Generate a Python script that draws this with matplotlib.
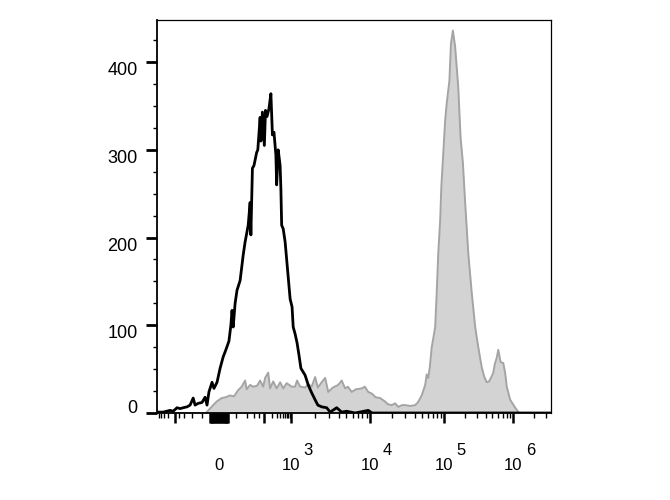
# %%
import numpy as np
import matplotlib
matplotlib.use("Agg")
import matplotlib.pyplot as plt

plt.rcParams['font.family'] = ['Liberation Sans', 'DejaVu Sans']

# %%
# histogram values, x in display channels (0-1024), y in events
black_ch = [0, 16, 34, 42, 52, 60, 68, 78, 86, 94, 99, 107, 117, 125, 130, 135, 143, 148, 156, 164,
            172, 179, 187, 192, 195, 198, 203, 208, 216, 224, 229, 237, 242, 244, 248, 252, 259, 262, 268, 270,
            274, 279, 282, 286, 291, 296, 300, 304, 309, 311, 315, 320, 322, 324, 328, 333, 341, 346, 351, 354,
            359, 364, 369, 374, 385, 393, 402, 411, 418, 428, 441, 450, 467, 480, 493, 515, 549, 559, 1024]
black_cnt = [1, 1, 3, 2, 6, 5, 6, 7, 9, 17, 9, 11, 12, 18, 9, 24, 35, 28, 35, 51,
             64, 72, 82, 100, 117, 98, 125, 140, 151, 180, 195, 214, 240, 203, 279, 282, 297, 300, 337, 310,
             343, 305, 345, 338, 347, 364, 317, 320, 294, 260, 300, 282, 255, 214, 210, 195, 155, 130, 121, 98,
             90, 80, 66, 51, 43, 32, 23, 15, 9, 7, 6, 1, 6, 1, 2, 0, 3, 0, 0]

gray_ch = [0, 127, 146, 155, 168, 179, 190, 200, 211, 220, 229, 233, 242, 250, 260, 268, 276, 281, 289, 294,
           302, 311, 320, 328, 337, 350, 359, 364, 372, 385, 393, 402, 411, 418, 428, 437, 445, 457, 471, 480,
           489, 496, 506, 517, 532, 540, 549, 559, 568, 580, 593, 600, 610, 619, 627, 637, 645, 658, 671, 678,
           688, 697, 701, 705, 709, 714, 718, 723, 727, 731, 736, 739, 744, 749, 753, 760, 764, 769, 775, 783,
           789, 795, 801, 809, 818, 827, 835, 844, 850, 857, 863, 868, 874, 878, 883, 887, 893, 900, 905, 909,
           918, 931, 941, 1024]
gray_cnt = [0, 0, 9, 13, 17, 18, 20, 19, 26, 30, 37, 27, 32, 30, 31, 37, 30, 40, 46, 28,
            36, 28, 35, 28, 34, 30, 30, 37, 30, 29, 33, 30, 41, 29, 35, 40, 24, 29, 32, 37,
            28, 30, 24, 27, 28, 30, 24, 22, 18, 17, 13, 10, 9, 11, 7, 9, 9, 8, 9, 12,
            20, 32, 44, 40, 52, 75, 85, 98, 137, 182, 220, 258, 296, 334, 353, 379, 421, 436, 417, 371,
            314, 285, 239, 182, 137, 98, 75, 52, 42, 35, 36, 40, 46, 56, 63, 72, 58, 57, 45, 30,
            15, 6, 0, 0]

# axis labels
x_label_vals = [0, 1e3, 1e4, 1e5, 1e6]
x_label_text = ["0", "10", "10", "10", "10"]
x_exp_vals = [1e3, 1e4, 1e5, 1e6]
x_exp_text = ["3", "4", "5", "6"]
y_ticks = [0, 100, 200, 300, 400]

# %%
# biexponential-like display: value -> channel
anchor_val = np.array([-590, -100, 0, 100, 1e3, 1e4, 1e5, 1e6, 3.5e6])
anchor_ch = np.array([0, 47, 161, 277, 348, 554, 746, 926, 1024])


def to_ch(v):
    t = np.arcsinh(np.asarray(v, dtype=float) / 20)
    return np.interp(t, np.arcsinh(anchor_val / 20), anchor_ch)


# long ticks: the decades plus the crowded block around zero
x_major_vals = ([-100] + list(-np.arange(1, 11)) + list(np.arange(1, 11)) + [100]
                + x_label_vals)
x_major_text = [""] * 22 + x_label_text
x_minor_vals = ([-500, -400, -300, -200, -80, -60, -40, -20, 20, 40, 60, 80]
                + [k * 10 ** d for d in (2, 3, 4, 5) for k in range(2, 10)]
                + [2e6, 3e6])

# %%
fig = plt.figure(figsize=(6.7, 5), dpi=100)
ax = fig.add_axes([157 / 670, 87 / 500, 394 / 670, 393 / 500])

ax.fill_between(gray_ch, gray_cnt, color='#d3d3d3', lw=0, zorder=1)
ax.plot(gray_ch, gray_cnt, color='#a4a4a4', lw=1.4, zorder=2)
ax.plot(black_ch, black_cnt, color='black', lw=2.0, zorder=3)

ax.set_xlim(0, 1024)
ax.set_ylim(0, 448)

ax.set_xticks(to_ch(x_major_vals))
ax.set_xticklabels(x_major_text)
ax.set_xticks(to_ch(x_minor_vals), minor=True)
ax.tick_params(axis='x', which='major', length=7, width=1.8, pad=34, labelsize=12)
ax.tick_params(axis='x', which='minor', length=3.5, width=1)
for lab in ax.get_xticklabels():
    lab.set_verticalalignment('baseline')

for v, e in zip(x_exp_vals, x_exp_text):
    ax.annotate(e, xy=(to_ch(v), 0), xycoords=('data', 'axes fraction'),
                xytext=(8.9, -30.2), textcoords='offset points',
                ha='left', va='baseline', fontsize=12)

ax.set_yticks(y_ticks)
ax.set_yticklabels([str(v) for v in y_ticks])
ax.set_yticks(np.arange(0, 450, 25), minor=True)
ax.tick_params(axis='y', which='major', length=8, width=2, pad=6, labelsize=13)
ax.tick_params(axis='y', which='minor', length=3, width=1)
for i, lab in enumerate(ax.get_yticklabels()):
    lab.set_verticalalignment('baseline' if i == 0 else 'top')

for side in ['top', 'right']:
    ax.spines[side].set_linewidth(0.9)
for side in ['left', 'bottom']:
    ax.spines[side].set_linewidth(1.3)

fig.savefig('out.png', dpi=100)
